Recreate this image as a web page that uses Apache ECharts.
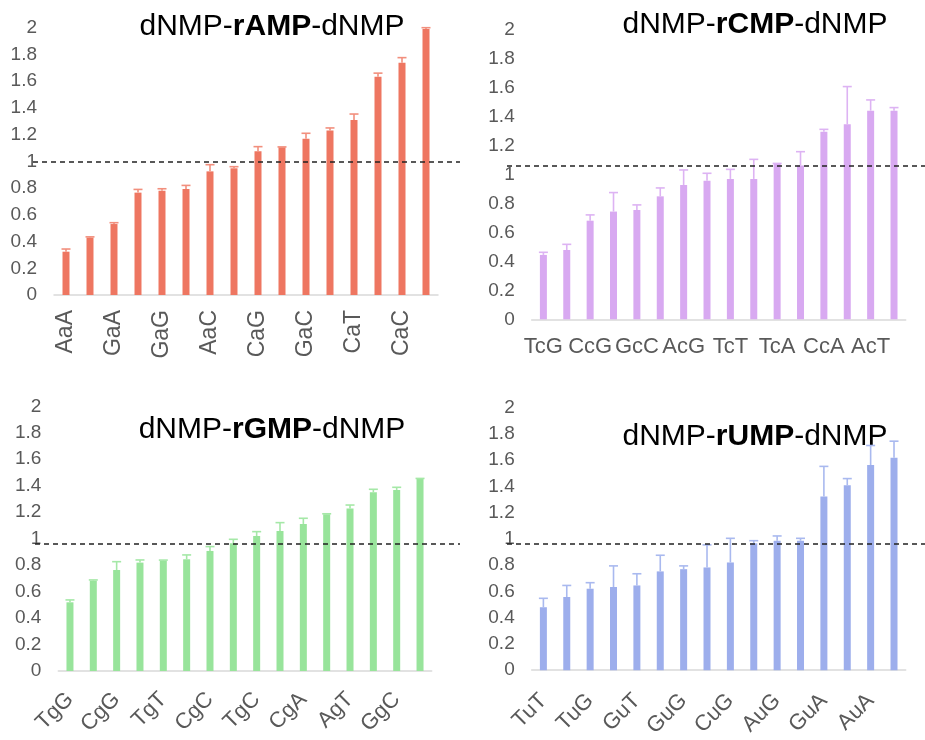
<!DOCTYPE html>
<html>
<head>
<meta charset="utf-8">
<script src="https://cdn.jsdelivr.net/npm/echarts@6/dist/echarts.min.js"></script>
<style>
html,body{margin:0;padding:0;background:#fff;}
#chart{width:925px;height:740px;}
</style>
</head>
<body>
<div id="chart"></div>
<script>
// ---- Data ----
const catsA = ['AaA','AaG','GaA','TaA','GaG','TaG','AaC','AaT','CaG','CaA','GaC','TaC','CaT','GaT','CaC','TaT'];
const valsA = [0.324,0.43,0.531,0.766,0.78,0.793,0.925,0.948,1.075,1.105,1.17,1.23,1.31,1.633,1.738,1.99];
const errA  = [0.344,0.435,0.541,0.79,0.795,0.82,0.975,0.96,1.11,1.108,1.21,1.25,1.354,1.66,1.776,2.0];
const refA = 1.0;

const catsC = ['TcG','GcG','CcG','TcC','GcC','AcC','AcG','CcT','TcT','GcA','TcA','CcC','CcA','AcA','AcT','GcT'];
const valsC = [0.444,0.478,0.68,0.743,0.754,0.848,0.926,0.956,0.968,0.968,1.071,1.06,1.294,1.345,1.439,1.439];
const errC  = [0.462,0.517,0.72,0.874,0.789,0.906,1.03,1.007,1.034,1.103,1.075,1.156,1.31,1.605,1.513,1.46];
const refC = 1.06;

const catsG = ['TgG','GgT','CgG','AgA','TgT','GgA','CgC','TgA','TgC','AgC','CgA','AgG','AgT','CgT','GgC','GgG'];
const valsG = [0.519,0.683,0.763,0.819,0.834,0.844,0.907,0.965,1.02,1.058,1.111,1.184,1.227,1.35,1.368,1.451];
const errG  = [0.537,0.688,0.826,0.839,0.838,0.877,0.94,0.995,1.053,1.121,1.154,1.188,1.254,1.373,1.388,1.455];
const refG = 0.965;

const catsU = ['TuT','TuC','TuG','CuT','GuT','CuC','GuG','AuC','CuG','TuA','AuG','GuC','GuA','AuT','AuA','CuA'];
const valsU = [0.48,0.558,0.621,0.634,0.646,0.753,0.77,0.783,0.821,0.967,0.987,0.987,1.323,1.409,1.563,1.619];
const errU  = [0.548,0.646,0.667,0.795,0.735,0.876,0.795,0.955,1.005,0.987,1.023,1.005,1.553,1.46,1.712,1.745];
const refU = 0.96;

const yMin = 0, yMax = 2, yStep = 0.2;

// ---- Build ----
const FONT = '"Liberation Sans", Arial, sans-serif';
const panels = [
  {cats: catsA, vals: valsA, err: errA, ref: refA, nuc: 'rAMP', color: '#EE7661', ecolor: '#F28F7D',
   grid: {left: 54, right: 487, top: 27.7, bottom: 445}, rotate: 90, xfs: 23, xmargin: 15, ypad: 2,
   title: [272, 27], line: [33, 460]},
  {cats: catsC, vals: valsC, err: errC, ref: refC, nuc: 'rCMP', color: '#D8A9F1', ecolor: '#DDB3F3',
   grid: {left: 531.7, right: 19.3, top: 29.3, bottom: 420.7}, rotate: 0, xfs: 22, xmargin: 17, ypad: 4,
   title: [755, 25], line: [507, 925]},
  {cats: catsG, vals: valsG, err: errG, ref: refG, nuc: 'rGMP', color: '#98E49B', ecolor: '#A5E8A7',
   grid: {left: 58.3, right: 493.3, top: 406.3, bottom: 69}, rotate: 45, xfs: 22, xmargin: 25, ypad: 6,
   title: [272, 430], line: [35, 460]},
  {cats: catsU, vals: valsU, err: errU, ref: refU, nuc: 'rUMP', color: '#9DAEEC', ecolor: '#A9B9EF',
   grid: {left: 531.7, right: 19.3, top: 407.7, bottom: 68.3}, rotate: 45, xfs: 22, xmargin: 27, ypad: 6,
   title: [755, 437], line: [507, 925]}
];

const grid = [], xAxis = [], yAxis = [], series = [], graphic = [];
panels.forEach((p, i) => {
  grid.push(Object.assign({containLabel: false}, p.grid));
  xAxis.push({
    type: 'category', gridIndex: i, data: p.cats,
    axisLine: {lineStyle: {color: '#D9D9D9', width: 1.5}},
    axisTick: {show: false},
    axisLabel: {interval: 1, rotate: p.rotate, color: '#595959', fontSize: p.xfs, fontFamily: FONT, margin: p.xmargin}
  });
  yAxis.push({
    type: 'value', gridIndex: i, min: yMin, max: yMax, interval: yStep,
    axisLine: {show: false}, axisTick: {show: false}, splitLine: {show: false},
    axisLabel: {color: '#595959', fontSize: 19, fontFamily: FONT, margin: 17, padding: [p.ypad, 0, 0, 0]}
  });
  series.push({
    type: 'bar', xAxisIndex: i, yAxisIndex: i, data: p.vals, barWidth: 7,
    itemStyle: {color: p.color}, silent: true,
    markLine: {
      silent: true, symbol: 'none', animation: false,
      label: {show: false},
      lineStyle: {type: [5, 4], color: '#222', width: 1.5},
      data: [[{x: p.line[0], yAxis: p.ref}, {x: p.line[1], yAxis: p.ref}]]
    }
  });
  series.push({
    type: 'custom', xAxisIndex: i, yAxisIndex: i, z: 3, silent: true,
    data: p.vals.map((v, k) => [k, v, p.err[k]]),
    renderItem: (params, api) => {
      const a = api.coord([api.value(0), api.value(1)]);
      const b = api.coord([api.value(0), api.value(2)]);
      const st = {stroke: p.ecolor, lineWidth: 1.6};
      return {type: 'group', children: [
        {type: 'line', shape: {x1: a[0], y1: a[1], x2: b[0], y2: b[1]}, style: st},
        {type: 'line', shape: {x1: b[0] - 4.5, y1: b[1], x2: b[0] + 4.5, y2: b[1]}, style: st}
      ]};
    }
  });
  graphic.push({
    type: 'text', x: p.title[0], y: p.title[1], silent: true,
    style: {
      text: '{a|dNMP-}{b|' + p.nuc + '}{a|-dNMP}',
      align: 'center', verticalAlign: 'middle',
      rich: {
        a: {fontSize: 30, fontFamily: FONT, fill: '#000'},
        b: {fontSize: 30, fontFamily: FONT, fontWeight: 'bold', fill: '#000'}
      }
    }
  });
});

const chart = echarts.init(document.getElementById('chart'), null, {renderer: 'canvas'});
chart.setOption({animation: false, backgroundColor: '#fff', grid, xAxis, yAxis, series, graphic});
</script>
</body>
</html>
